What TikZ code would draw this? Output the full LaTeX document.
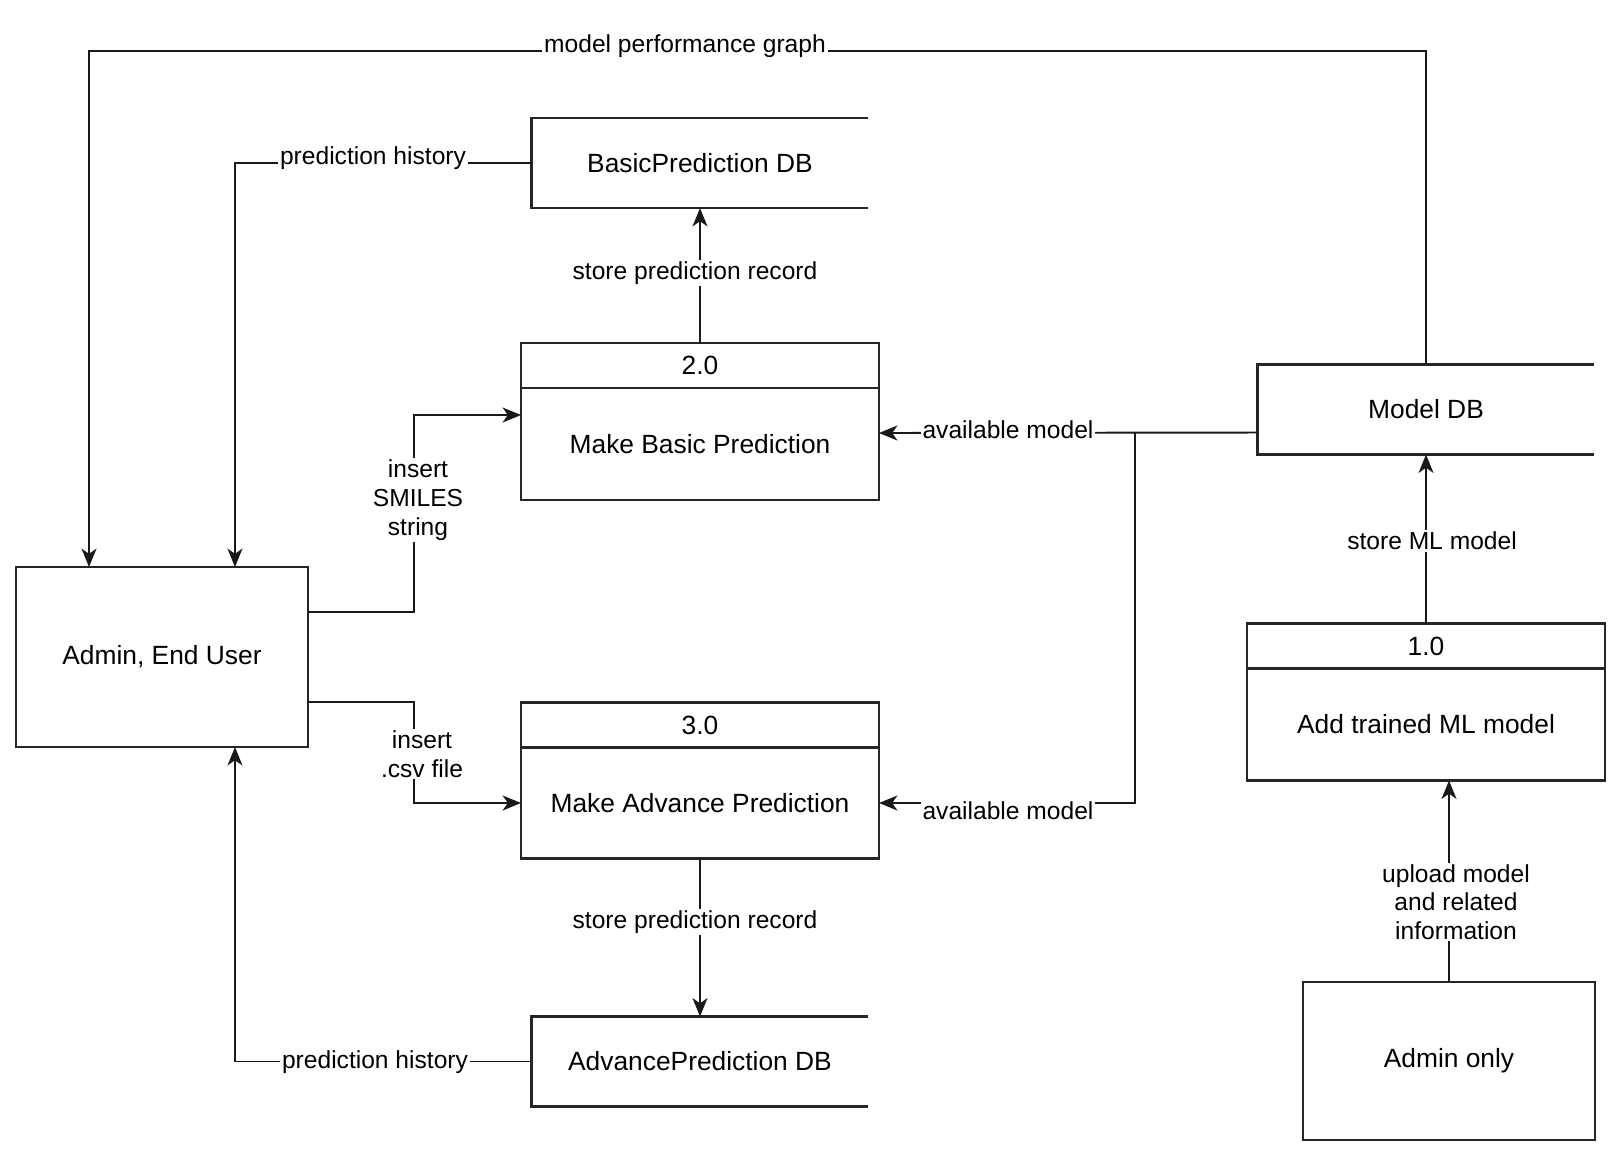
\documentclass[tikz,border=0pt]{standalone}
\usepackage{fontspec}
\setmainfont{Liberation Sans}
\usetikzlibrary{calc,positioning,arrows.meta}
\def\opendb(#1){\draw[box] (#1.north east) -- (#1.north west) -- (#1.south west) -- (#1.south east);}
\tikzset{
  box/.style={line width=1.3pt, draw=black!85},
  ent/.style={box, outer sep=0pt, minimum width=5.84cm, font=\fontsize{15}{18}\selectfont},
  dbnode/.style={outer sep=0pt, minimum width=6.74cm, minimum height=1.8cm, font=\fontsize{15}{18}\selectfont},
  prochead/.style={box, outer sep=0pt, minimum width=7.16cm, minimum height=0.9cm, font=\fontsize{15}{18}\selectfont},
  procbody/.style={box, outer sep=0pt, minimum width=7.16cm, minimum height=2.24cm, font=\fontsize{15}{18}\selectfont},
  flow/.style={line width=1.1pt, draw=black!90, -{Stealth[length=10.5pt,width=8.5pt,inset=3pt]}},
  wire/.style={line width=1.1pt, draw=black!90},
  lbl/.style={fill=white, inner sep=1pt, align=center, font=\fontsize{14}{16.3}\selectfont},
}
\begin{document}
\begin{tikzpicture}[x=0.02cm, y=-0.02cm]
		\useasboundingbox (0,0) rectangle (1608,1157);
		%%%%% START %%%%%
		
		\node[ent, minimum height=3.6cm] (user) at (162,657) {Admin, End User};
		\node[ent, minimum height=3.16cm] (ao) at (1449,1061) {Admin only};
		
		\node[dbnode] (bdb) at (700,163) {BasicPrediction DB};
		\node[dbnode] (adb) at (700,1061.5) {AdvancePrediction DB};
		\node[dbnode] (mdb) at (1426,409.5) {Model DB};
		\opendb(bdb)
		\opendb(adb)
		\opendb(mdb)
		
		\node[prochead] (p1h) at (1426,646) {1.0};
		\node[procbody, below=0pt of p1h] (p1) {Add trained ML model};
		\node[prochead] (p2h) at (700,365.5) {2.0};
		\node[procbody, below=0pt of p2h] (p2) {Make Basic Prediction};
		\node[prochead] (p3h) at (700,725) {3.0};
		\node[procbody, minimum height=2.22cm, below=0pt of p3h] (p3) {Make Advance Prediction};
		
		% model DB back to the users
		\draw[flow] (mdb.north) |- (89,51) -- ($(user.north west)!0.25!(user.north east)$);
		\node[lbl] (lmpg) at (685,46) {model performance graph};
		
		\draw[flow] (bdb.west) -| ($(user.north west)!0.75!(user.north east)$);
		\node[lbl] (lph1) at (373,158) {prediction history};
		\draw[flow] (adb.west) -| ($(user.south west)!0.75!(user.south east)$);
		\node[lbl] (lph2) at (375,1062) {prediction history};
		
		% inputs
		\draw[flow] ($(user.north east)+(0,45)$) -| (414,500) |- ($(p2.north west)+(0,27)$);
		\node[lbl] (lsmi) at (418,500) {insert\\SMILES\\string};
		\draw[flow] ($(user.north east)+(0,135)$) -| (414,754) |- (p3.west);
		\node[lbl] (lcsv) at (422,754) {insert\\.csv file};
		
		% records
		\draw[flow] (p2h.north) -- (bdb.south);
		\node[lbl] (lspr1) at (695,273) {store prediction record};
		\draw[flow] (p3.south) -- (adb.north);
		\node[lbl] (lspr2) at (695,922) {store prediction record};
		
		% available model
		\coordinate (split) at (1135,433);
		\draw[flow] ($(mdb.north west)+(0,68)$) -- ($(p2.north east)+(0,45)$);
		\draw[flow] (split) |- (p3.east);
		\node[lbl] (lav1) at (1008,430) {available model};
		\node[lbl] (lav2) at (1008,811) {available model};
		
		% admin side
		\draw[flow] (p1h.north) -- (mdb.south);
		\node[lbl] (lsml) at (1432,541) {store ML model};
		\draw[flow] (ao.north) -- (ao.north |- p1.south);
		\node[lbl] (lup) at (1456,902) {upload model\\and related\\information};
		
		%%%%% END %%%%%
	\end{tikzpicture}
\end{document}
